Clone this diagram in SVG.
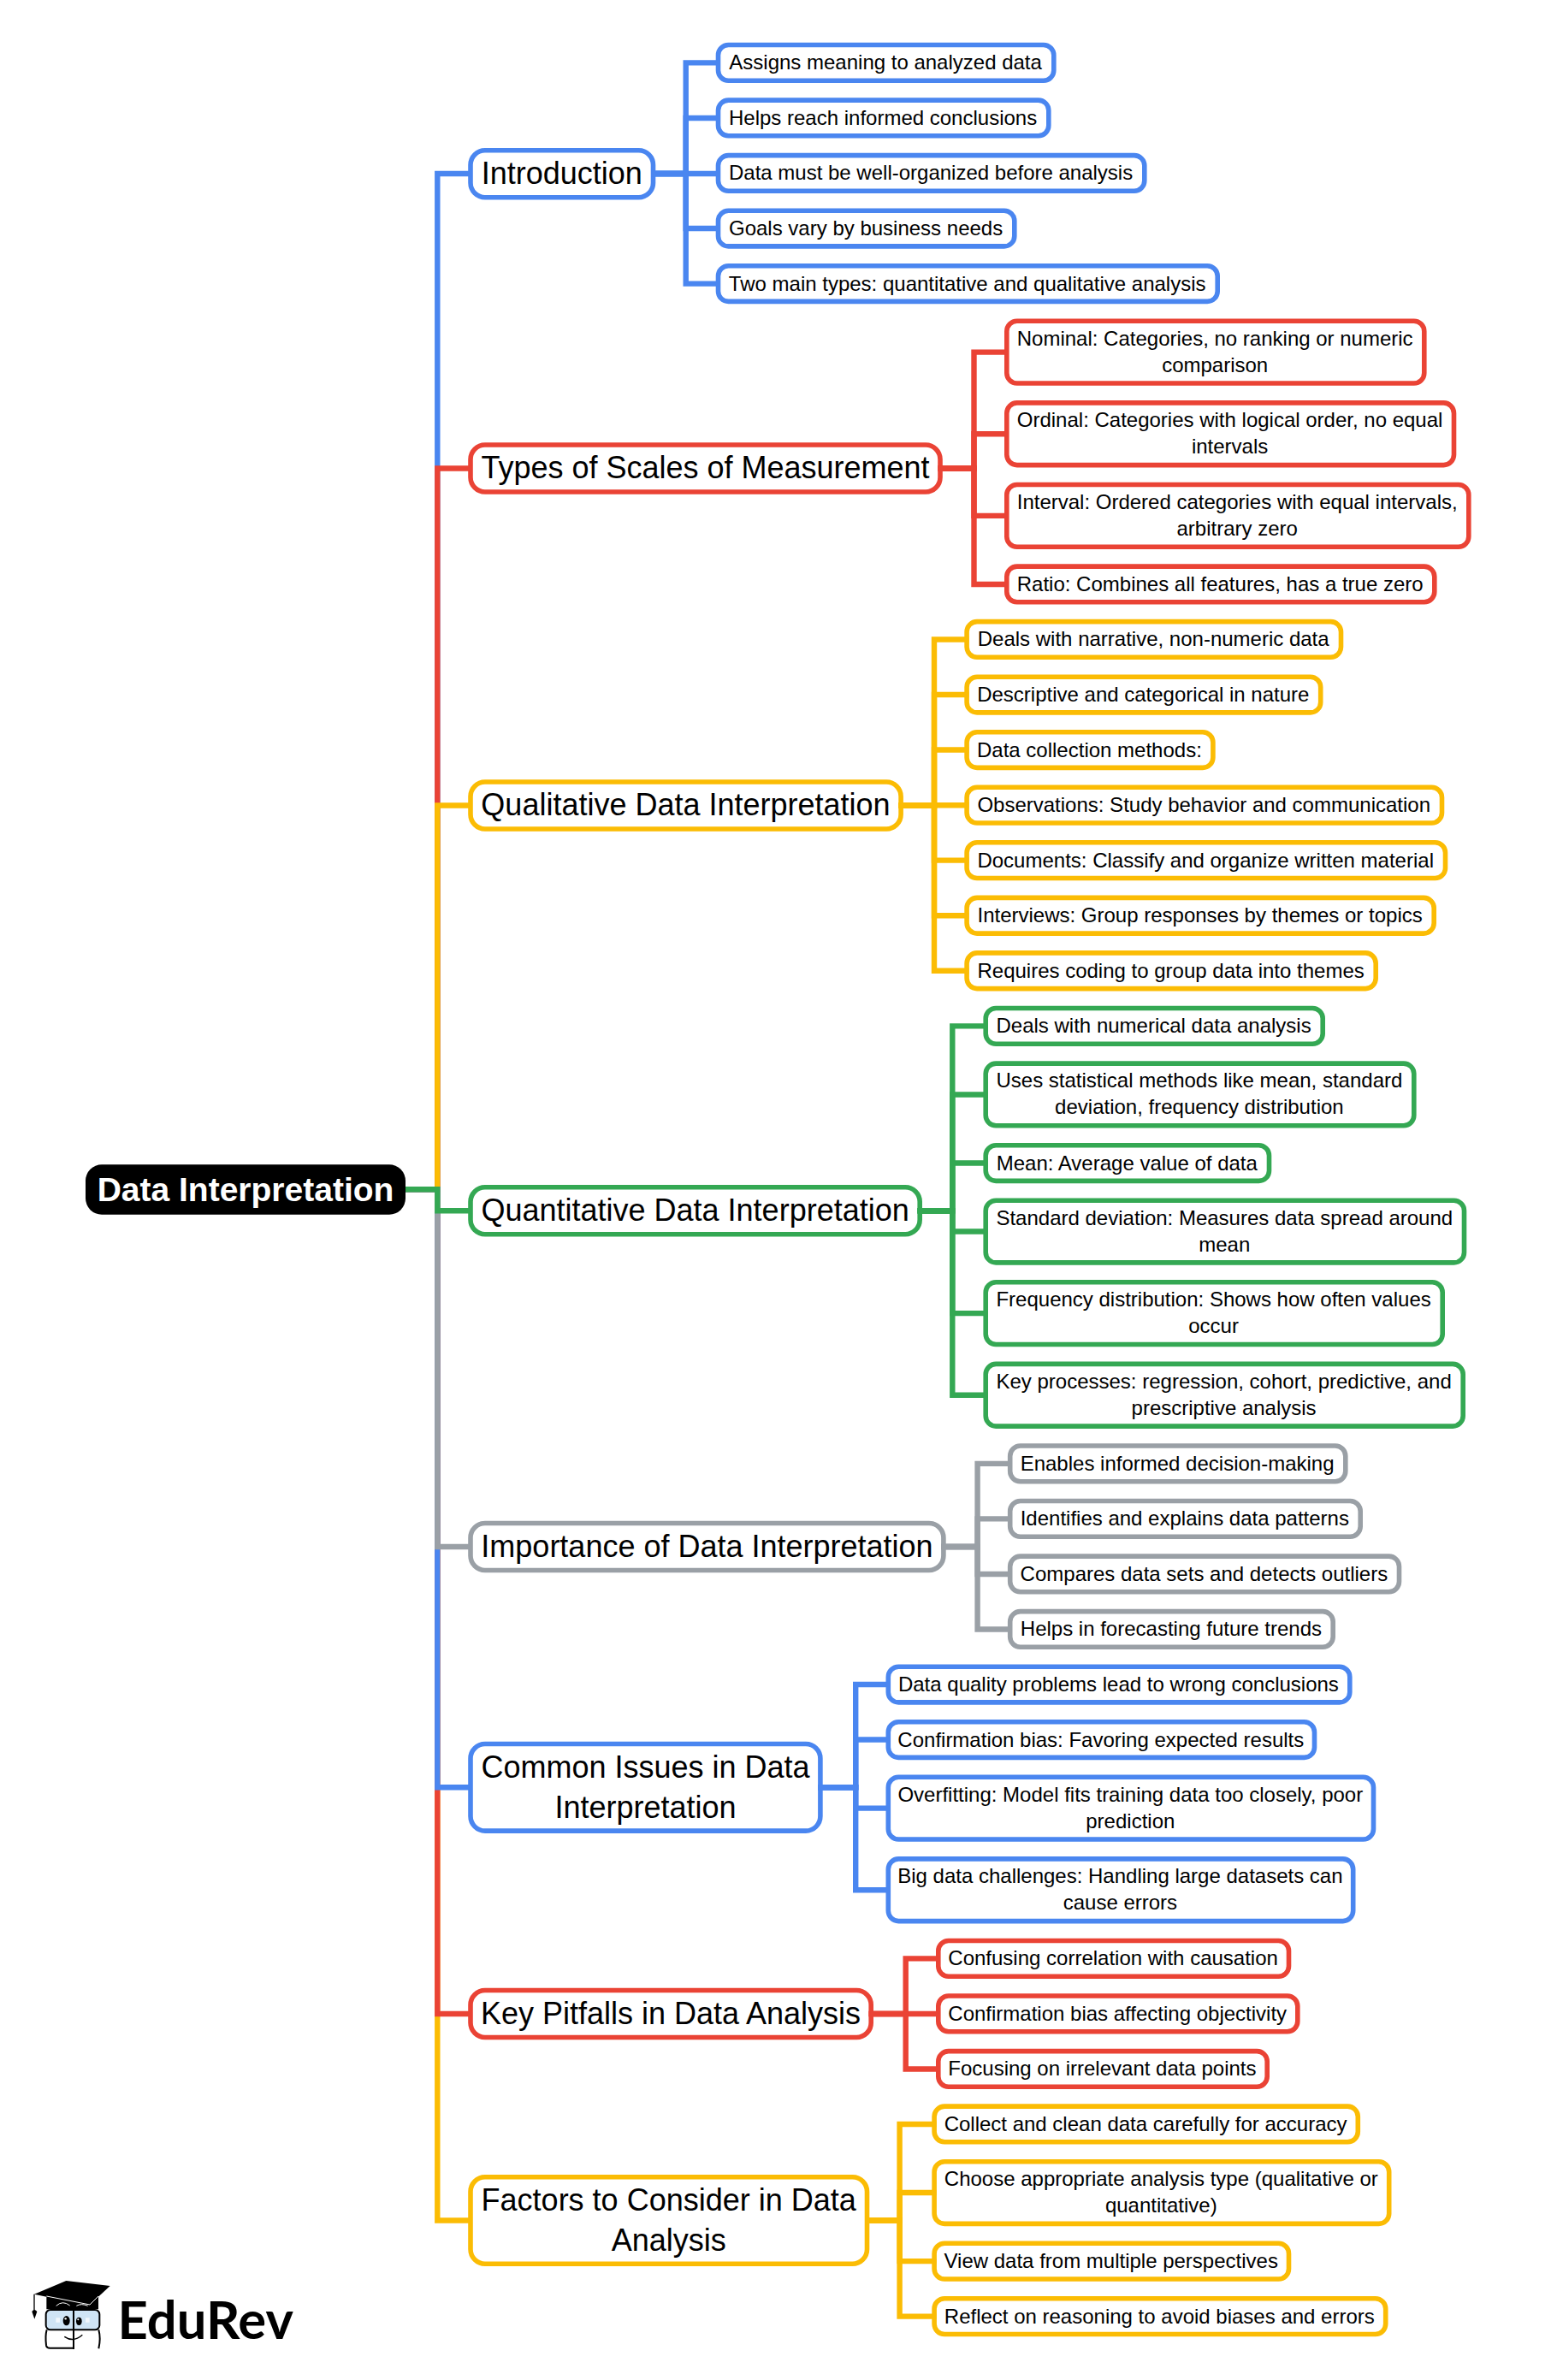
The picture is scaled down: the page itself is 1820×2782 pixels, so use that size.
<svg xmlns="http://www.w3.org/2000/svg" width="1820" height="2782" viewBox="0 0 1820 2782">
<style>
text{font-family:"Liberation Sans",Arial,sans-serif;fill:#000;text-anchor:middle}
.l{font-size:24px;transform:translate(-.6px,-.3px)}.r{font-size:36px}
.c{font-size:39px;font-weight:bold;fill:#fff}
rect.b{fill:#fff;stroke-width:5.6}
rect.leaf{rx:12px;ry:12px}
rect.root{rx:17px;ry:17px}
path.k{fill:none;stroke-width:6.4;stroke-linejoin:miter}
.blue{stroke:#4a86f0}.red{stroke:#ea4335}.yellow{stroke:#fbbc04}.green{stroke:#34a853}.grey{stroke:#9aa0a6}
</style>
<rect width="1820" height="2782" fill="#fff"/>
<g id="nodes">
<g id="center"><rect x="100" y="1361.3" width="374" height="58.4" rx="19" fill="#000"/><text class="c" x="287" y="1403.5">Data Interpretation</text></g>

<g id="introduction"><rect class="b root blue" x="550" y="175.7" width="213.5" height="55"/><text class="r" x="656.8" y="215">Introduction</text></g>
<g id="n1-1"><rect class="b leaf blue" x="839.5" y="52.5" width="392.3" height="41.7"/><text class="l" x="1035.7" y="81.7">Assigns meaning to analyzed data</text></g>
<g id="n1-2"><rect class="b leaf blue" x="839.5" y="117.1" width="386.3" height="41.7"/><text class="l" x="1032.7" y="146.3">Helps reach informed conclusions</text></g>
<g id="n1-3"><rect class="b leaf blue" x="839.5" y="181.6" width="498.3" height="41.7"/><text class="l" x="1088.7" y="210.8">Data must be well-organized before analysis</text></g>
<g id="n1-4"><rect class="b leaf blue" x="839.5" y="246.2" width="346.3" height="41.7"/><text class="l" x="1012.7" y="275.3">Goals vary by business needs</text></g>
<g id="n1-5"><rect class="b leaf blue" x="839.5" y="310.7" width="583.7" height="41.7"/><text class="l" x="1131.3" y="339.9">Two main types: quantitative and qualitative analysis</text></g>

<g id="types"><rect class="b root red" x="550" y="520" width="549" height="55"/><text class="r" x="824.5" y="559.1">Types of Scales of Measurement</text></g>
<g id="n2-1"><rect class="b leaf red" x="1176.8" y="375.3" width="488" height="72.7"/><text class="l" x="1420.8"><tspan x="1420.8" y="404">Nominal: Categories, no ranking or numeric</tspan><tspan x="1420.8" y="435">comparison</tspan></text></g>
<g id="n2-2"><rect class="b leaf red" x="1176.8" y="470.9" width="522.7" height="72.7"/><text class="l" x="1438.2"><tspan x="1438.2" y="499.6">Ordinal: Categories with logical order, no equal</tspan><tspan x="1438.2" y="530.6">intervals</tspan></text></g>
<g id="n2-3"><rect class="b leaf red" x="1176.8" y="566.5" width="540" height="72.7"/><text class="l" x="1446.8"><tspan x="1446.8" y="595.2">Interval: Ordered categories with equal intervals,</tspan><tspan x="1446.8" y="626.2">arbitrary zero</tspan></text></g>
<g id="n2-4"><rect class="b leaf red" x="1176.8" y="662.1" width="500" height="41.7"/><text class="l" x="1426.8" y="691.3">Ratio: Combines all features, has a true zero</text></g>

<g id="qualitative"><rect class="b root yellow" x="550" y="914" width="503.1" height="55"/><text class="r" x="801.5" y="953.1">Qualitative Data Interpretation</text></g>
<g id="n3-1"><rect class="b leaf yellow" x="1130.1" y="726.6" width="437.4" height="41.7"/><text class="l" x="1348.8" y="755.8">Deals with narrative, non-numeric data</text></g>
<g id="n3-2"><rect class="b leaf yellow" x="1130.1" y="791.2" width="413.6" height="41.7"/><text class="l" x="1336.9" y="820.4">Descriptive and categorical in nature</text></g>
<g id="n3-3"><rect class="b leaf yellow" x="1130.1" y="855.7" width="287.8" height="41.7"/><text class="l" x="1274" y="884.9">Data collection methods:</text></g>
<g id="n3-4"><rect class="b leaf yellow" x="1130.1" y="920.3" width="555.4" height="41.7"/><text class="l" x="1407.8" y="949.5">Observations: Study behavior and communication</text></g>
<g id="n3-5"><rect class="b leaf yellow" x="1130.1" y="984.8" width="559.4" height="41.7"/><text class="l" x="1409.8" y="1014">Documents: Classify and organize written material</text></g>
<g id="n3-6"><rect class="b leaf yellow" x="1130.1" y="1049.4" width="546.1" height="41.7"/><text class="l" x="1403.2" y="1078.6">Interviews: Group responses by themes or topics</text></g>
<g id="n3-7"><rect class="b leaf yellow" x="1130.1" y="1113.9" width="478.1" height="41.7"/><text class="l" x="1369.2" y="1143.1">Requires coding to group data into themes</text></g>

<g id="quantitative"><rect class="b root green" x="550" y="1387.8" width="525.2" height="55"/><text class="r" x="812.6" y="1427.3">Quantitative Data Interpretation</text></g>
<g id="n4-1"><rect class="b leaf green" x="1152.2" y="1178.5" width="394" height="41.7"/><text class="l" x="1349.2" y="1207.7">Deals with numerical data analysis</text></g>
<g id="n4-2"><rect class="b leaf green" x="1152.2" y="1243.1" width="500.6" height="72.7"/><text class="l" x="1402.5"><tspan x="1402.5" y="1271.8">Uses statistical methods like mean, standard</tspan><tspan x="1402.5" y="1302.8">deviation, frequency distribution</tspan></text></g>
<g id="n4-3"><rect class="b leaf green" x="1152.2" y="1338.7" width="331.3" height="41.7"/><text class="l" x="1317.9" y="1367.9">Mean: Average value of data</text></g>
<g id="n4-4"><rect class="b leaf green" x="1152.2" y="1403.2" width="559.3" height="72.7"/><text class="l" x="1431.9"><tspan x="1431.9" y="1431.9">Standard deviation: Measures data spread around</tspan><tspan x="1431.9" y="1462.9">mean</tspan></text></g>
<g id="n4-5"><rect class="b leaf green" x="1152.2" y="1498.8" width="534" height="72.7"/><text class="l" x="1419.2"><tspan x="1419.2" y="1527.5">Frequency distribution: Shows how often values</tspan><tspan x="1419.2" y="1558.5">occur</tspan></text></g>
<g id="n4-6"><rect class="b leaf green" x="1152.2" y="1594.4" width="558" height="72.7"/><text class="l" x="1431.2"><tspan x="1431.2" y="1623.1">Key processes: regression, cohort, predictive, and</tspan><tspan x="1431.2" y="1654.1">prescriptive analysis</tspan></text></g>

<g id="importance"><rect class="b root grey" x="550" y="1780.5" width="552.9" height="55"/><text class="r" x="826.5" y="1820.3">Importance of Data Interpretation</text></g>
<g id="n5-1"><rect class="b leaf grey" x="1180.7" y="1690" width="392.1" height="41.7"/><text class="l" x="1376.7" y="1719.2">Enables informed decision-making</text></g>
<g id="n5-2"><rect class="b leaf grey" x="1180.7" y="1754.5" width="409.5" height="41.7"/><text class="l" x="1385.4" y="1783.7">Identifies and explains data patterns</text></g>
<g id="n5-3"><rect class="b leaf grey" x="1180.7" y="1819.1" width="454.8" height="41.7"/><text class="l" x="1408" y="1848.3">Compares data sets and detects outliers</text></g>
<g id="n5-4"><rect class="b leaf grey" x="1180.7" y="1883.6" width="377.5" height="41.7"/><text class="l" x="1369.5" y="1912.8">Helps in forecasting future trends</text></g>

<g id="issues"><rect class="b root blue" x="550" y="2038.5" width="408.9" height="101.6"/><text class="r" x="754.5"><tspan x="754.5" y="2078">Common Issues in Data</tspan><tspan x="754.5" y="2125">Interpretation</tspan></text></g>
<g id="n6-1"><rect class="b leaf blue" x="1038.3" y="1948.2" width="539.5" height="41.7"/><text class="l" x="1308" y="1977.4">Data quality problems lead to wrong conclusions</text></g>
<g id="n6-2"><rect class="b leaf blue" x="1038.3" y="2012.7" width="498.2" height="41.7"/><text class="l" x="1287.4" y="2041.9">Confirmation bias: Favoring expected results</text></g>
<g id="n6-3"><rect class="b leaf blue" x="1038.3" y="2077.3" width="567.2" height="72.7"/><text class="l" x="1321.9"><tspan x="1321.9" y="2106">Overfitting: Model fits training data too closely, poor</tspan><tspan x="1321.9" y="2137">prediction</tspan></text></g>
<g id="n6-4"><rect class="b leaf blue" x="1038.3" y="2172.9" width="543.4" height="72.7"/><text class="l" x="1310"><tspan x="1310" y="2201.6">Big data challenges: Handling large datasets can</tspan><tspan x="1310" y="2232.6">cause errors</tspan></text></g>

<g id="pitfalls"><rect class="b root red" x="550" y="2326.5" width="468.2" height="55"/><text class="r" x="784" y="2366">Key Pitfalls in Data Analysis</text></g>
<g id="n7-1"><rect class="b leaf red" x="1096.8" y="2268.5" width="409.7" height="41.7"/><text class="l" x="1301.7" y="2297.7">Confusing correlation with causation</text></g>
<g id="n7-2"><rect class="b leaf red" x="1096.8" y="2333" width="420" height="41.7"/><text class="l" x="1306.8" y="2362.2">Confirmation bias affecting objectivity</text></g>
<g id="n7-3"><rect class="b leaf red" x="1096.8" y="2397.6" width="384.4" height="41.7"/><text class="l" x="1289" y="2426.8">Focusing on irrelevant data points</text></g>

<g id="factors"><rect class="b root yellow" x="550" y="2544.8" width="463.5" height="101.4"/><text class="r" x="781.7"><tspan x="781.7" y="2584.2">Factors to Consider in Data</tspan><tspan x="781.7" y="2631.2">Analysis</tspan></text></g>
<g id="n8-1"><rect class="b leaf yellow" x="1092.1" y="2462.1" width="495.2" height="41.7"/><text class="l" x="1339.7" y="2491.3">Collect and clean data carefully for accuracy</text></g>
<g id="n8-2"><rect class="b leaf yellow" x="1092.1" y="2526.7" width="531.6" height="72.7"/><text class="l" x="1357.9"><tspan x="1357.9" y="2555.4">Choose appropriate analysis type (qualitative or</tspan><tspan x="1357.9" y="2586.4">quantitative)</tspan></text></g>
<g id="n8-3"><rect class="b leaf yellow" x="1092.1" y="2622.3" width="414.4" height="41.7"/><text class="l" x="1299.3" y="2651.5">View data from multiple perspectives</text></g>
<g id="n8-4"><rect class="b leaf yellow" x="1092.1" y="2686.8" width="527.6" height="41.7"/><text class="l" x="1355.9" y="2716">Reflect on reasoning to avoid biases and errors</text></g>
</g>

<g id="connectors">
<path class="k blue" d="M474 1390.3H511.3V203H552"/>
<path class="k red" d="M474 1390.3H511.3V547.5H552"/>
<path class="k yellow" d="M474 1390.3H511.3V941.5H552"/>
<path class="k yellow" d="M474 1390.3H511.3V2595.5H552"/>
<path class="k red" d="M474 1390.3H511.3V2354H552"/>
<path class="k blue" d="M474 1390.3H511.3V2089.3H552"/>
<path class="k grey" d="M474 1390.3H511.3V1808H552"/>
<path class="k green" d="M474 1390.3H511.3V1415.3H552"/>

<path class="k blue" d="M761 203H801.7V73.4H842"/>
<path class="k blue" d="M761 203H801.7V138H842"/>
<path class="k blue" d="M761 203H842"/>
<path class="k blue" d="M761 203H801.7V267H842"/>
<path class="k blue" d="M761 203H801.7V331.6H842"/>

<path class="k red" d="M1096.5 547.5H1138.5V411.65H1179"/>
<path class="k red" d="M1096.5 547.5H1138.5V507.25H1179"/>
<path class="k red" d="M1096.5 547.5H1138.5V602.85H1179"/>
<path class="k red" d="M1096.5 547.5H1138.5V682.95H1179"/>

<path class="k yellow" d="M1050.6 941.5H1092V747.45H1132.5"/>
<path class="k yellow" d="M1050.6 941.5H1092V812.05H1132.5"/>
<path class="k yellow" d="M1050.6 941.5H1092V876.55H1132.5"/>
<path class="k yellow" d="M1050.6 941.2H1132.5"/>
<path class="k yellow" d="M1050.6 941.5H1092V1005.65H1132.5"/>
<path class="k yellow" d="M1050.6 941.5H1092V1070.25H1132.5"/>
<path class="k yellow" d="M1050.6 941.5H1092V1134.75H1132.5"/>

<path class="k green" d="M1072.7 1415.3H1113.3V1199.35H1154.5"/>
<path class="k green" d="M1072.7 1415.3H1113.3V1279.45H1154.5"/>
<path class="k green" d="M1072.7 1415.3H1113.3V1359.55H1154.5"/>
<path class="k green" d="M1072.7 1415.3H1113.3V1439.55H1154.5"/>
<path class="k green" d="M1072.7 1415.3H1113.3V1535.15H1154.5"/>
<path class="k green" d="M1072.7 1415.3H1113.3V1630.75H1154.5"/>

<path class="k grey" d="M1100.4 1808H1142.6V1710.85H1183"/>
<path class="k grey" d="M1100.4 1808H1142.6V1775.35H1183"/>
<path class="k grey" d="M1100.4 1808H1142.6V1839.95H1183"/>
<path class="k grey" d="M1100.4 1808H1142.6V1904.45H1183"/>

<path class="k blue" d="M956.4 2089.3H1000.2V1969.05H1040.6"/>
<path class="k blue" d="M956.4 2089.3H1000.2V2033.55H1040.6"/>
<path class="k blue" d="M956.4 2089.3H1000.2V2113.65H1040.6"/>
<path class="k blue" d="M956.4 2089.3H1000.2V2209.25H1040.6"/>

<path class="k red" d="M1015.7 2354H1058.7V2289.35H1099"/>
<path class="k red" d="M1015.7 2354H1099"/>
<path class="k red" d="M1015.7 2354H1058.7V2418.45H1099"/>

<path class="k yellow" d="M1011 2595.5H1051.6V2482.95H1094.5"/>
<path class="k yellow" d="M1011 2595.5H1051.6V2563.05H1094.5"/>
<path class="k yellow" d="M1011 2595.5H1051.6V2643.15H1094.5"/>
<path class="k yellow" d="M1011 2595.5H1051.6V2707.65H1094.5"/>
</g>

<g id="logo">
<g transform="translate(0 2560) scale(.33333)">
<path d="M163 372H345V418H163Z" fill="#000"/>
<path d="M120 365L232 318L386 336L315 402L163 374Z" fill="#000"/>
<path d="M163 372L315 402L345 372" fill="none" stroke="#fff" stroke-width="3"/>
<path d="M120 365V422" fill="none" stroke="#000" stroke-width="4"/>
<path d="M112 426Q120 414 130 426L121 452Z" fill="#000"/>
<path d="M197 406Q220 385 245 405M268 406Q285 396 308 406" fill="none" stroke="#fff" stroke-width="3"/>
<rect x="161" y="420" width="188" height="70" rx="16" fill="#cfe4f5" stroke="#000" stroke-width="6"/>
<path d="M258 415V558" fill="none" stroke="#000" stroke-width="6"/>
<path d="M164 490Q158 510 162 545Q164 554 175 554H258M346 490Q354 520 346 556" fill="none" stroke="#000" stroke-width="6"/>
<path d="M226 514Q258 536 289 508" fill="none" stroke="#000" stroke-width="4"/>
<ellipse cx="233" cy="458" rx="12" ry="17" fill="#000"/>
<ellipse cx="277" cy="460" rx="10" ry="14" fill="#000"/>
<circle cx="230" cy="451" r="3.5" fill="#fff"/><circle cx="274" cy="454" r="3" fill="#fff"/>
<path d="M196 448h14v16h-14zM300 448h14v16h-14z" fill="#fff" opacity=".7"/>
</g>
<text x="137.5" y="2734" font-size="61.5" font-weight="bold" style="font-family:Lato,'Liberation Sans',sans-serif;text-anchor:start">EduRev</text>
</g>
</svg>
